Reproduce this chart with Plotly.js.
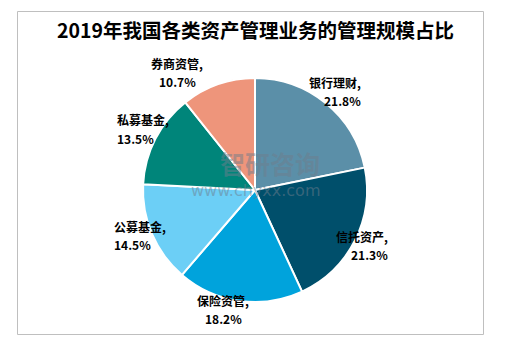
<!DOCTYPE html>
<html><head><meta charset="utf-8">
<script src="https://cdn.plot.ly/plotly-3.0.1.min.js"></script>
<style>body{margin:0;padding:0;background:#fff}#c{width:511px;height:352px}</style>
</head><body><div id="c"></div>
<script>
const categories = ['银行理财','信托资产','保险资管','公募基金','私募基金','券商资管'];
const shares = [21.8, 21.3, 18.2, 14.5, 13.5, 10.7];
const colors = ['#5B8FA8','#004F6B','#00A3DC','#6CCFF6','#00857A','#EE957B'];
const labelPos = [[363,81],[390,256],[223,320],[112,246],[115,129],[177,62]];

const W = 511, H = 352;
const cx = 255, cy = 190, r = 112;
const lf = {family:'"Noto Sans CJK SC", sans-serif', size:12, color:'#000'};

const annotations = [];
categories.forEach((c,i)=>{
  annotations.push({text:'<b>'+c+',</b>', x:labelPos[i][0]/W, y:1-(labelPos[i][1]-9)/H,
    xref:'paper', yref:'paper', showarrow:false, font:lf});
  annotations.push({text:'<b>'+shares[i].toFixed(1)+'%</b>', x:labelPos[i][0]/W, y:1-(labelPos[i][1]+9)/H,
    xref:'paper', yref:'paper', showarrow:false, font:lf});
});
annotations.push({text:'<b>智研咨询</b>', x:270/W, y:1-163/H, xref:'paper', yref:'paper', showarrow:false,
  font:{family:'"Noto Sans CJK SC", sans-serif', size:25, color:'rgba(110,125,140,0.5)'}});
annotations.push({text:'www.chyxx.com', x:255/W, y:1-190/H, xref:'paper', yref:'paper', showarrow:false,
  font:{family:'"DejaVu Sans", sans-serif', size:16, color:'rgba(110,125,140,0.5)'}});

const data = [{
  type:'pie', labels:categories, values:shares, sort:false, direction:'clockwise', rotation:0,
  marker:{colors:colors, line:{color:'#fff', width:2}},
  textinfo:'none', hoverinfo:'none', showlegend:false,
  domain:{x:[(cx-r)/W,(cx+r)/W], y:[1-(cy+r)/H, 1-(cy-r)/H]}
}];

const layout = {
  width:W, height:H, margin:{l:0,r:0,t:0,b:0},
  paper_bgcolor:'#fff',
  title:{text:'<b>2019年我国各类资产管理业务的管理规模占比</b>', x:0.5, xanchor:'center', y:1-31/H, yanchor:'middle',
    font:{family:'"Noto Sans CJK SC", sans-serif', size:19.5, color:'#000'}},
  shapes:[{type:'rect', xref:'paper', yref:'paper', x0:17.5/W, x1:483.5/W, y0:1-334.5/H, y1:1-11.5/H,
    line:{color:'#BFBFBF', width:1}}],
  annotations:annotations
};
Plotly.newPlot('c', data, layout, {staticPlot:true});
</script></body></html>
